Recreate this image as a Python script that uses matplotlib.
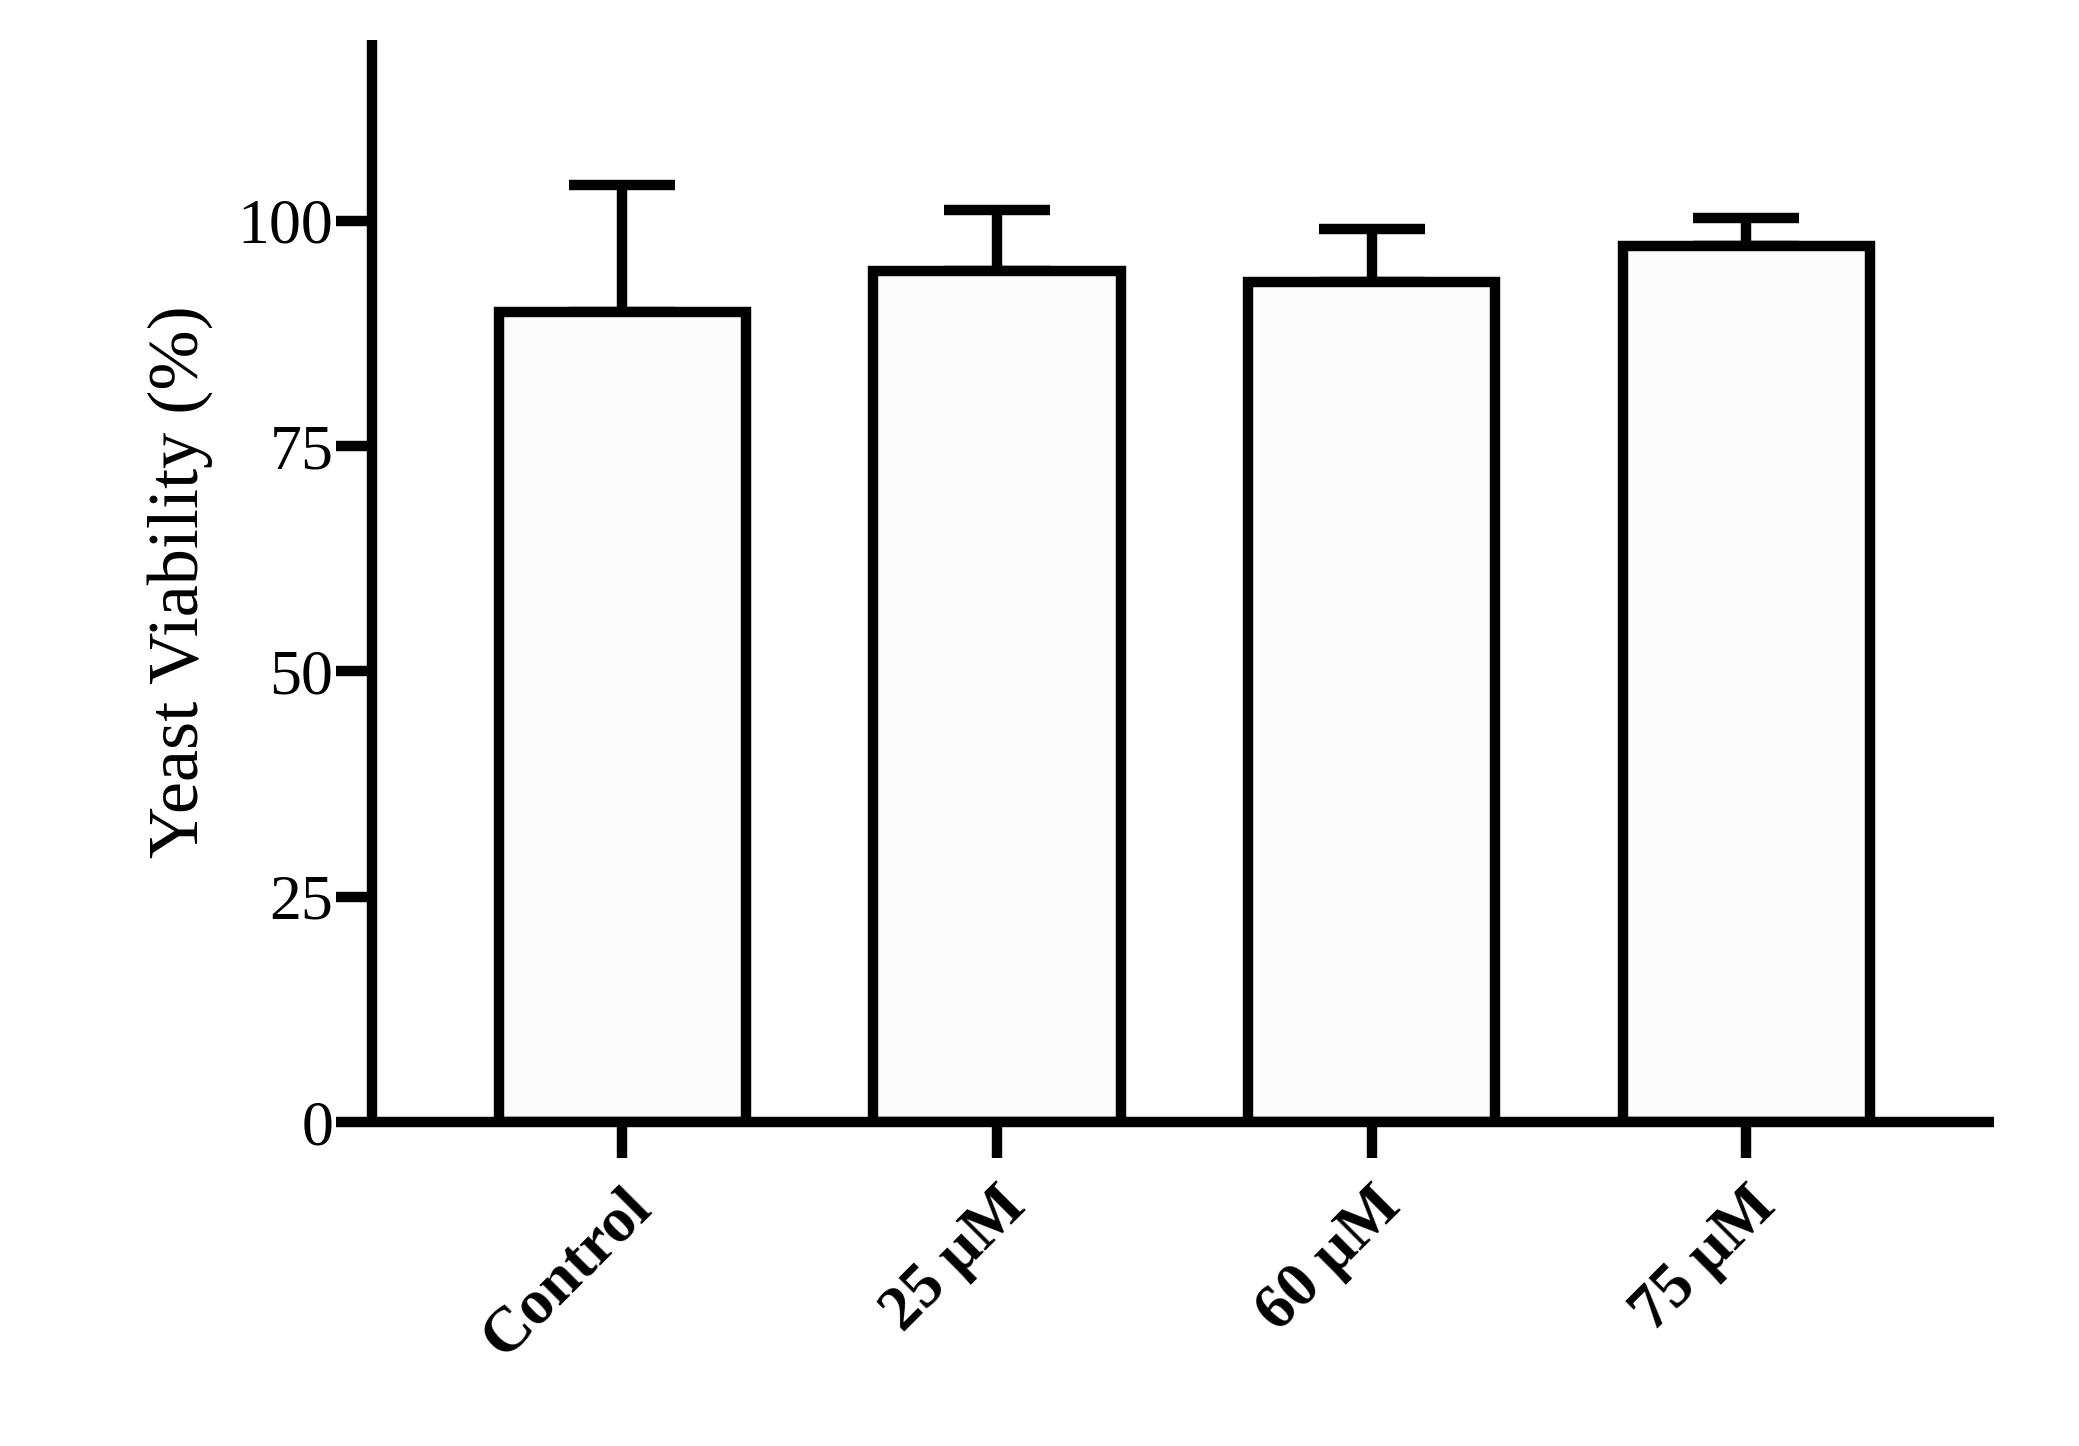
import matplotlib.pyplot as plt
import numpy as np

categories = ['Control', '25 μM', '60 μM', '75 μM']
means = [89.9, 94.4, 93.2, 97.2]
upper_err = [14.1, 6.8, 5.9, 3.1]

plt.rcParams['font.family'] = ['Liberation Serif', 'DejaVu Serif']

fig = plt.figure(figsize=(20.79, 14.46), dpi=100)
ax = fig.add_axes([0.179, 0.224, 0.78, 0.748])

x = np.arange(len(categories))
lw = 7.5
ax.bar(x, means, width=0.66, color='#fcfcfc', edgecolor='black', linewidth=lw, zorder=2)
ax.errorbar(x, means, yerr=[np.zeros(len(means)), upper_err], fmt='none',
            ecolor='black', elinewidth=lw, capsize=38, capthick=lw, zorder=1)

ax.set_xlim(-0.668, 3.66)
ax.set_ylim(0, 120)
ax.set_yticks([0, 25, 50, 75, 100])
ax.set_xticks(x)
ax.set_xticklabels(categories, rotation=45, ha='right', rotation_mode='anchor',
                   fontweight='bold', fontsize=46)
ax.tick_params(axis='y', labelsize=46, width=lw, length=26, pad=2)
ax.tick_params(axis='x', width=lw, length=26, pad=14)
ax.set_ylabel('Yeast Viability (%)', fontsize=52, labelpad=18)

for s in ['top', 'right']:
    ax.spines[s].set_visible(False)
for s in ['left', 'bottom']:
    ax.spines[s].set_linewidth(lw)
    ax.spines[s].set_capstyle('butt')

fig.savefig('out.png', dpi=100, facecolor='white')
